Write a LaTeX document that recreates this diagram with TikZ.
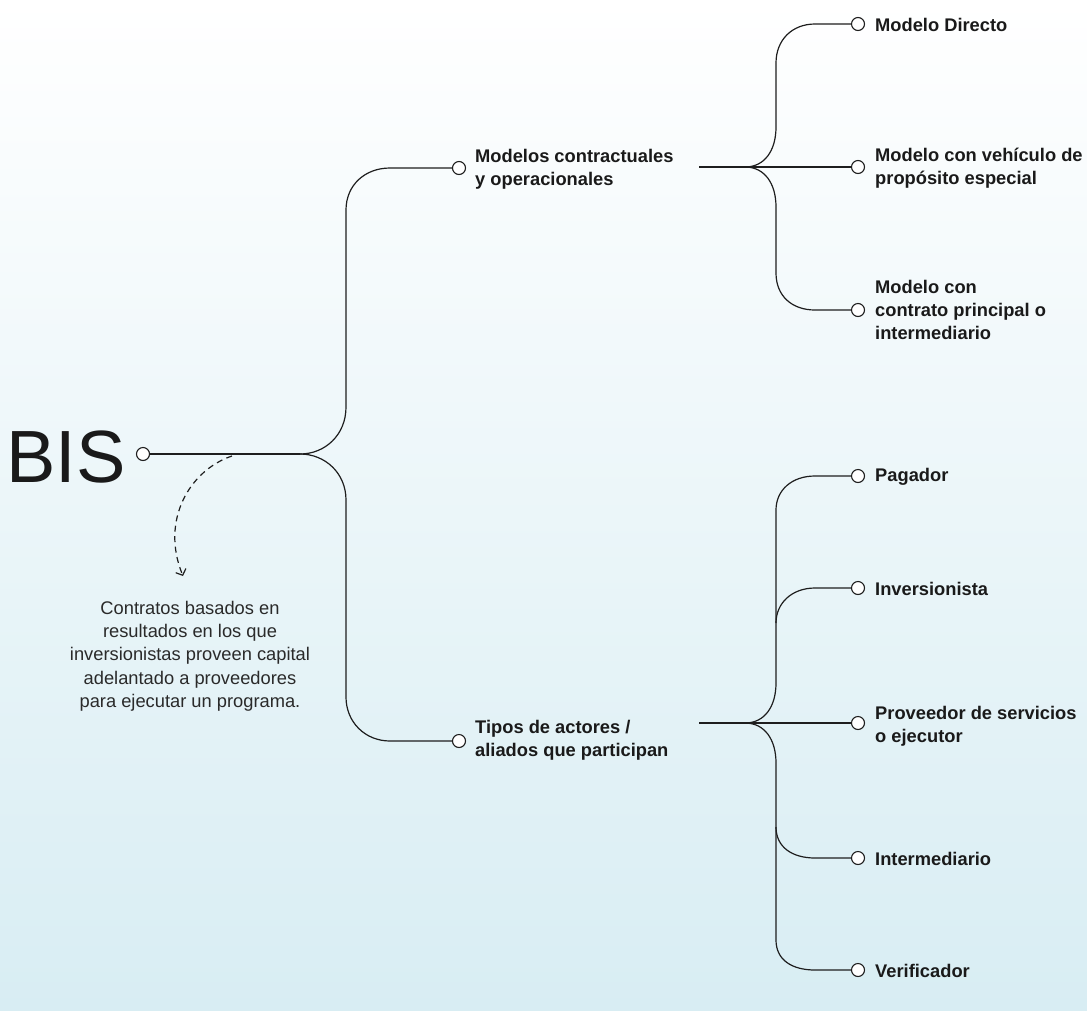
\documentclass[tikz,border=0pt]{standalone}
\usepackage{fontspec}
\setmainfont{Liberation Sans}
\usetikzlibrary{arrows.meta}
\definecolor{bgblue}{HTML}{D8EDF3}
\definecolor{ink}{HTML}{1E1E1E}
\definecolor{txt}{HTML}{1A1A1A}
\definecolor{desc}{HTML}{2A2A2A}
\begin{document}
\begin{tikzpicture}[x=1pt,y=-1pt,
  dot/.style={circle,draw=ink,fill=white,line width=1.1pt,minimum size=13pt,inner sep=0pt},
  conn/.style={draw=ink,line width=1.2pt},
  lbl/.style={anchor=west,inner sep=0pt,align=left,text=txt,font=\fontsize{18.3}{23}\selectfont\bfseries},
  ]
\shade[top color=white,bottom color=bgblue] (0,0) rectangle (1087,1010);
\useasboundingbox (0,0) rectangle (1087,1010);

% root
\node[anchor=base west,inner sep=0pt,text=txt,font=\fontsize{74}{80}\selectfont] (bis) at (6,482) {BIS};
\node[dot] (c0) at (143,454) {};
\coordinate (j0) at (300,454);

% first level
\node[dot] (c1) at (459,168) {};
\node[dot] (c2) at (459,741) {};
\node[lbl] (l1) at (475,169) {Modelos contractuales\\y operacionales};
\node[lbl] (l2) at (475,740) {Tipos de actores /\\aliados que participan};

\draw[conn] (c0.east) -- (j0);
\draw[conn] (j0) .. controls (325,454) and (346,435) .. (346,407) -- (346,210)
  .. controls (346,185) and (365,168) .. (390,168) -- (c1.west);
\draw[conn] (j0) .. controls (325,454) and (346,473) .. (346,500) -- (346,697)
  .. controls (346,722) and (365,741) .. (390,741) -- (c2.west);

% second level, top group
\coordinate (s1) at (699,167);
\coordinate (j1) at (745,167);
\node[dot] (c11) at (858,24) {};
\node[dot] (c12) at (858,167) {};
\node[dot] (c13) at (858,310) {};
\node[lbl] (l11) at (875,25) {Modelo Directo};
\node[lbl] (l12) at (875,168) {Modelo con vehículo de\\propósito especial};
\node[lbl] (l13) at (875,310) {Modelo con\\contrato principal o\\intermediario};

\draw[conn] (s1) -- (j1);
\draw[conn] (j1) .. controls (765,167) and (776,150) .. (776,127) -- (776,63)
  .. controls (776,40) and (792,24) .. (815,24) -- (c11.west);
\draw[conn] (j1) -- (c12.west);
\draw[conn] (j1) .. controls (765,167) and (776,184) .. (776,207) -- (776,273)
  .. controls (776,296) and (792,310) .. (815,310) -- (c13.west);

% second level, bottom group
\coordinate (s2) at (699,723);
\coordinate (j2) at (745,723);
\node[dot] (c21) at (858,476) {};
\node[dot] (c22) at (858,588) {};
\node[dot] (c23) at (858,723) {};
\node[dot] (c24) at (858,858) {};
\node[dot] (c25) at (858,970) {};
\node[lbl] (l21) at (875,477) {Pagador};
\node[lbl] (l22) at (875,589) {Inversionista};
\node[lbl] (l23) at (875,726) {Proveedor de servicios\\o ejecutor};
\node[lbl] (l24) at (875,859) {Intermediario};
\node[lbl] (l25) at (875,971) {Verificador};

\draw[conn] (s2) -- (j2);
\draw[conn] (j2) .. controls (765,723) and (776,706) .. (776,683) -- (776,510)
  .. controls (776,490) and (792,476) .. (815,476) -- (c21.west);
\draw[conn] (776,623) .. controls (776,603) and (792,588) .. (815,588) -- (c22.west);
\draw[conn] (j2) -- (c23.west);
\draw[conn] (j2) .. controls (765,723) and (776,740) .. (776,763) -- (776,940)
  .. controls (776,960) and (792,970) .. (815,970) -- (c25.west);
\draw[conn] (776,827) .. controls (776,847) and (792,858) .. (815,858) -- (c24.west);

% dashed note arrow
\coordinate (dstart) at (232,456);
\coordinate (dend) at (183,576);
\draw[draw=ink,line width=1.2pt,dash pattern=on 6pt off 4.5pt,-{Straight Barb[length=5pt,width=11pt]}]
  (dstart) .. controls (190,470) and (160,520) .. (dend);

\node[align=center,inner sep=0pt,text=desc,font=\fontsize{18.3}{23.3}\selectfont] (note) at (190,656)
  {Contratos basados en\\resultados en los que\\inversionistas proveen capital\\adelantado a proveedores\\para ejecutar un programa.};
\end{tikzpicture}
\end{document}
